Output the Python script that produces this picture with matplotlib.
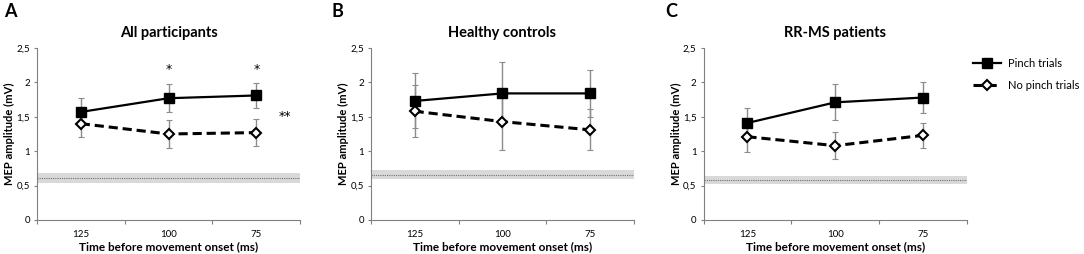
import matplotlib.pyplot as plt
import numpy as np

plt.rcParams['font.family'] = ['Lato', 'DejaVu Sans']

times = ['125', '100', '75']
titles = ['All participants', 'Healthy controls', 'RR-MS patients']
letters = ['A', 'B', 'C']

# pinch trials (mean, sem)
pinch_all = [1.57, 1.77, 1.81]
pinch_all_err = [0.20, 0.20, 0.18]
pinch_hc = [1.73, 1.84, 1.84]
pinch_hc_err = [0.40, 0.45, 0.34]
pinch_ms = [1.41, 1.71, 1.78]
pinch_ms_err = [0.22, 0.26, 0.23]

# no pinch trials
nopinch_all = [1.40, 1.25, 1.27]
nopinch_all_err = [0.20, 0.21, 0.20]
nopinch_hc = [1.58, 1.43, 1.31]
nopinch_hc_err = [0.38, 0.42, 0.30]
nopinch_ms = [1.21, 1.08, 1.23]
nopinch_ms_err = [0.22, 0.20, 0.18]

# baseline (rest) MEP: low, mean, high
baseline_all = [0.54, 0.61, 0.68]
baseline_hc = [0.59, 0.65, 0.72]
baseline_ms = [0.52, 0.58, 0.64]

pinch = [pinch_all, pinch_hc, pinch_ms]
pinch_err = [pinch_all_err, pinch_hc_err, pinch_ms_err]
nopinch = [nopinch_all, nopinch_hc, nopinch_ms]
nopinch_err = [nopinch_all_err, nopinch_hc_err, nopinch_ms_err]
baselines = [baseline_all, baseline_hc, baseline_ms]

fig = plt.figure(figsize=(10.84, 2.54), dpi=100)
lefts = [0.034, 0.342, 0.649]
letter_x = [0.004, 0.306, 0.614]
x = np.arange(len(times)) + 0.5

for i in range(3):
    ax = fig.add_axes([lefts[i], 0.134, 0.243, 0.677])
    lo, mid, hi = baselines[i]
    ax.axhspan(lo, hi, color='#d9d9d9', lw=0, zorder=0)
    ax.axhline(mid, color='#707070', lw=0.8, ls=(0, (1, 1)), zorder=1)

    ax.errorbar(x, nopinch[i], yerr=nopinch_err[i], fmt='none', ecolor='#8c8c8c',
                elinewidth=1, capsize=2, capthick=0.8, zorder=2)
    ax.errorbar(x, pinch[i], yerr=pinch_err[i], fmt='none', ecolor='#8c8c8c',
                elinewidth=1, capsize=2, capthick=0.8, zorder=2)
    ax.plot(x, nopinch[i], color='black', lw=2.2, ls=(0, (3, 1.6)), marker='D',
            ms=5, mfc='white', mec='black', mew=1.5, zorder=3)
    ax.plot(x, pinch[i], color='black', lw=1.6, marker='s', ms=6.5,
            mfc='black', mec='black', zorder=4)

    ax.set_xlim(0, 3)
    ax.set_ylim(0, 2.5)
    ax.set_yticks([0, 0.5, 1, 1.5, 2, 2.5])
    ax.set_yticklabels(['0', '0,5', '1', '1,5', '2', '2,5'], fontsize=7)
    ax.set_xticks([0, 1, 2, 3])
    ax.set_xticklabels([])
    ax.set_xticks(x, minor=True)
    ax.set_xticklabels(times, minor=True, fontsize=7)
    ax.tick_params(axis='x', which='minor', length=0, pad=7)
    ax.tick_params(axis='x', which='major', length=3, color='#808080')
    ax.tick_params(axis='y', length=2.5, color='#808080', pad=2.5)
    for s in ['top', 'right']:
        ax.spines[s].set_visible(False)
    for s in ['left', 'bottom']:
        ax.spines[s].set_color('#808080')
    ax.set_ylabel('MEP amplitude (mV)', fontsize=8, fontweight='bold', labelpad=1)
    ax.set_xlabel('Time before movement onset (ms)', fontsize=8.5, fontweight='bold', labelpad=2)
    ax.set_title(titles[i], fontsize=10.5, fontweight='bold', pad=8)
    fig.text(letter_x[i], 0.955, letters[i], fontsize=13, fontweight='bold',
             ha='left', va='center')

    if i == 0:
        ax.text(x[1], 2.19, '*', ha='center', va='center', fontsize=9,
                family='DejaVu Sans')
        ax.text(x[2], 2.19, '*', ha='center', va='center', fontsize=9,
                family='DejaVu Sans')
        ax.text(2.83, 1.5, '**', ha='center', va='center', fontsize=9,
                family='DejaVu Sans')

h1, = plt.plot([], [], color='black', lw=1.6, marker='s', ms=6.5, mfc='black')
h2, = plt.plot([], [], color='black', lw=2.2, ls=(0, (3, 1.6)), marker='D', ms=5,
               mfc='white', mec='black', mew=1.5)
fig.legend([h1, h2], ['Pinch trials', 'No pinch trials'], loc='upper left',
           bbox_to_anchor=(0.888, 0.81), frameon=False, fontsize=8,
           handlelength=2.6, labelspacing=1.0, handletextpad=0.6)

fig.savefig('out.png', dpi=100)
